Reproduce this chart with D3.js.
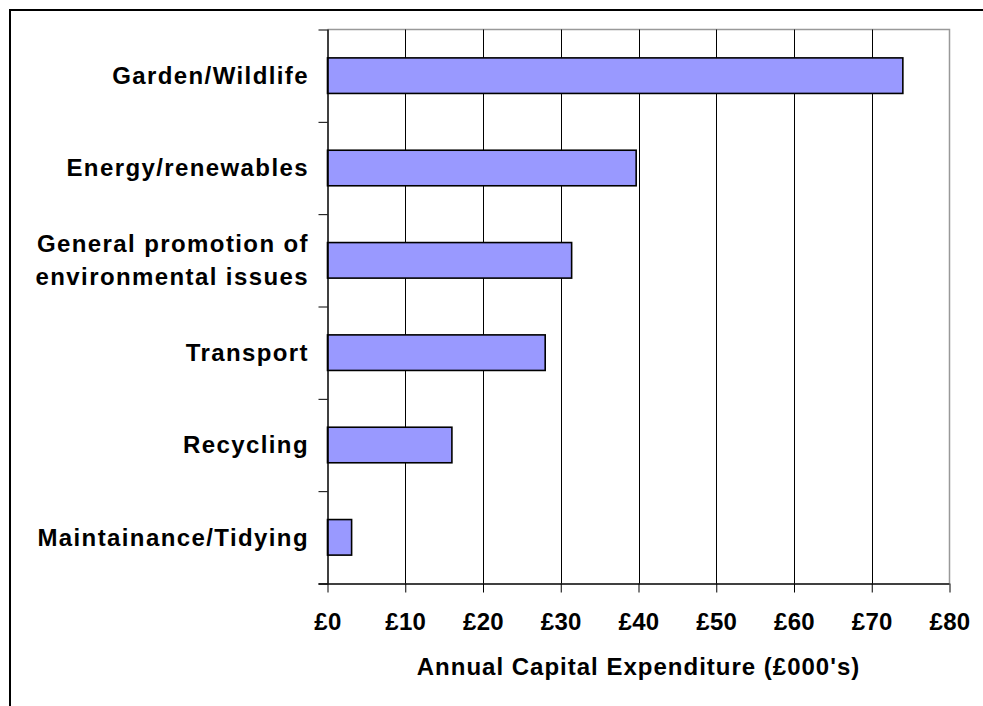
<!DOCTYPE html>
<html>
<head>
<meta charset="utf-8">
<script src="https://cdn.jsdelivr.net/npm/d3@7"></script>
<style>
  html, body { margin: 0; padding: 0; background: #fff; }
  svg { display: block; }
  text { font-family: "Liberation Sans", Arial, sans-serif; font-weight: bold; fill: #000; }
</style>
</head>
<body>
<svg id="chart" width="983" height="706"></svg>
<script>
// Annual capital expenditure by project type (£000's)
const categories = [
  ["Garden/Wildlife"],
  ["Energy/renewables"],
  ["General promotion of", "environmental issues"],
  ["Transport"],
  ["Recycling"],
  ["Maintainance/Tidying"]
];
const values = [74, 39.7, 31.4, 28, 16, 3.1];
const xTicks = [0, 10, 20, 30, 40, 50, 60, 70, 80];
const axisTitle = "Annual Capital Expenditure (£000's)";

const svg = d3.select("#chart");
const plot = { left: 327.5, right: 949.5, top: 29.5, bottom: 583.5 };

// outer frame
svg.append("rect")
  .attr("x", 10).attr("y", 10)
  .attr("width", 1000).attr("height", 1000)
  .attr("fill", "none").attr("stroke", "#000").attr("stroke-width", 2);

const keys = categories.map(d => d.join(" "));
const x = d3.scaleLinear().domain([0, 80]).range([plot.left, plot.right]);
const y = d3.scaleBand().domain(keys).range([plot.top, plot.bottom])
  .paddingInner(0.615).paddingOuter(0.3075);

// plot frame (top and right edges in grey)
svg.append("path")
  .attr("d", `M${plot.left},${plot.top}H${plot.right}V${plot.bottom}`)
  .attr("fill", "none").attr("stroke", "#999").attr("stroke-width", 1.5);

// vertical gridlines
svg.append("g").selectAll("line")
  .data(xTicks.slice(1, -1))
  .join("line")
  .attr("x1", d => Math.round(x(d)) + 0.5).attr("x2", d => Math.round(x(d)) + 0.5)
  .attr("y1", plot.top).attr("y2", plot.bottom)
  .attr("stroke", "#000").attr("stroke-width", 1);

// bars
svg.append("g").selectAll("rect")
  .data(values)
  .join("rect")
  .attr("x", x(0))
  .attr("y", (d, i) => y(keys[i]))
  .attr("width", d => x(d) - x(0))
  .attr("height", y.bandwidth())
  .attr("fill", "#9999ff")
  .attr("stroke", "#000")
  .attr("stroke-width", 1.6);

// x axis
const xAxis = svg.append("g")
  .attr("transform", `translate(0,${plot.bottom})`)
  .call(d3.axisBottom(x).tickValues(xTicks).tickSize(9).tickPadding(0).tickFormat(d => "£" + d));
xAxis.select(".domain").attr("d", `M${plot.left - 9},0.5H${plot.right}`).attr("stroke", "#000").attr("stroke-width", 1.5);
xAxis.selectAll(".tick line").attr("stroke", "#000");
xAxis.selectAll(".tick text")
  .attr("y", 46.5).attr("dy", 0)
  .style("font-size", "24px")
  .style("letter-spacing", "0.3px")
  .attr("font-family", null);

// y axis: ticks at category boundaries
const boundaries = d3.range(keys.length + 1);
const yb = d3.scaleLinear().domain([0, keys.length]).range([plot.top, plot.bottom]);
const yAxis = svg.append("g")
  .attr("transform", `translate(${plot.left},0)`)
  .call(d3.axisLeft(yb).tickValues(boundaries).tickSize(9).tickFormat(""));
yAxis.select(".domain").attr("d", `M0.5,${plot.top}V${plot.bottom}`).attr("stroke", "#000").attr("stroke-width", 1.5);
yAxis.selectAll(".tick line").attr("stroke", "#000");

// category labels
const labelSize = 24;
const lineGap = 33.3;
svg.append("g").selectAll("text")
  .data(categories)
  .join("text")
  .attr("text-anchor", "end")
  .style("font-size", labelSize + "px")
  .style("letter-spacing", "1.4px")
  .each(function (lines, i) {
    const cy = y(keys[i]) + y.bandwidth() / 2;
    const base = cy + 8.4 - (lines.length - 1) * lineGap / 2;
    d3.select(this).selectAll("tspan")
      .data(lines)
      .join("tspan")
      .attr("x", 309)
      .attr("y", (d, j) => base + j * lineGap)
      .text(d => d);
  });

// axis title
svg.append("text")
  .attr("x", (plot.left + plot.right) / 2)
  .attr("y", 675)
  .attr("text-anchor", "middle")
  .style("font-size", "24px")
  .style("letter-spacing", "1px")
  .text(axisTitle);
</script>
</body>
</html>
